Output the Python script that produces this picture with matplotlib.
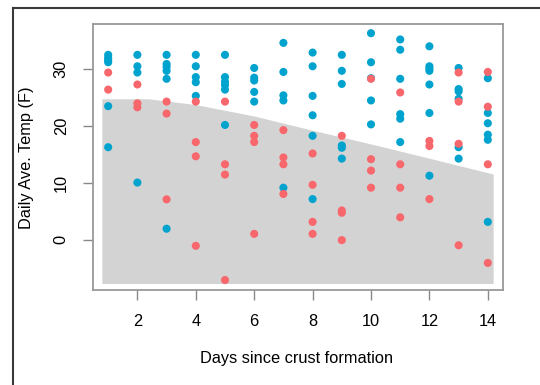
import matplotlib
matplotlib.use("Agg")
import matplotlib.pyplot as plt
from matplotlib.lines import Line2D
from matplotlib.patches import Polygon

plt.rcParams['font.family'] = ['Liberation Sans', 'DejaVu Sans']

# ---- data ----
blue_days = ([1]*6 + [2]*4 + [3]*6 + [4]*5 + [5]*6 + [6]*5 + [7]*5 +
             [8]*6 + [9]*6 + [10]*5 + [11]*6 + [12]*7 + [13]*6 + [14]*6)
blue_temps = [32.4, 31.9, 31.5, 31.1, 23.4, 16.2,
              32.4, 30.4, 29.3, 10.0,
              32.4, 30.8, 30.3, 29.6, 28.2, 1.9,
              32.4, 30.4, 28.5, 27.6, 25.2,
              32.4, 28.5, 27.7, 27.1, 26.3, 20.1,
              30.1, 28.4, 27.9, 25.9, 24.2,
              34.5, 29.4, 25.3, 24.4, 9.1,
              32.8, 30.4, 25.2, 21.8, 18.2, 7.1,
              32.4, 29.6, 27.3, 16.5, 16.1, 14.2,
              36.2, 31.1, 28.3, 24.4, 20.2,
              35.1, 33.3, 28.2, 22.0, 21.2, 17.1,
              33.9, 30.4, 30.0, 29.6, 27.2, 22.2, 11.2,
              30.1, 26.4, 26.0, 24.7, 16.2, 14.2,
              28.3, 22.2, 20.4, 18.4, 17.5, 3.1]

red_days = ([1]*2 + [2]*3 + [3]*3 + [4]*4 + [5]*4 + [6]*4 + [7]*4 +
            [8]*4 + [9]*4 + [10]*4 + [11]*4 + [12]*3 + [13]*4 + [14]*4)
red_temps = [29.3, 26.3,
             27.2, 23.9, 23.2,
             24.2, 22.1, 7.05,
             24.2, 17.1, 14.6, -1.1,
             24.2, 13.2, 11.4, -7.1,
             20.1, 18.2, 17.1, 1.0,
             19.2, 14.4, 13.2, 8.0,
             15.1, 9.6, 3.1, 1.0,
             18.2, 5.1, 4.7, -0.1,
             28.2, 14.1, 12.1, 9.1,
             25.8, 13.2, 9.1, 3.9,
             17.3, 16.4, 7.1,
             29.3, 24.2, 16.8, -1.0,
             29.4, 23.3, 13.2, -4.1]

# shaded region (upper boundary) and its floor
band_days = [0.8, 2.4, 4.0, 5.0, 6.0, 8.0, 10.0, 12.0, 14.2]
band_top = [24.6, 24.6, 23.6, 22.6, 21.6, 19.1, 16.7, 14.2, 11.4]
band_floor = -7.8

x_ticks = [2, 4, 6, 8, 10, 12, 14]
y_ticks = [0, 10, 20, 30]

W, H = 540, 385
fig = plt.figure(figsize=(W/100, H/100), dpi=100)
ax = fig.add_axes([93/W, 1-290/H, (503-93)/W, (290-23.5)/H])

verts = list(zip(band_days, band_top)) + [(band_days[-1], band_floor), (band_days[0], band_floor)]
ax.add_patch(Polygon(verts, closed=True, facecolor='#D3D3D3', edgecolor='none', zorder=1))

ax.scatter(blue_days, blue_temps, s=34, color='#00A3CD', edgecolors='none', zorder=3)
ax.scatter(red_days, red_temps, s=34, color='#F8676B', edgecolors='none', zorder=3)

ax.set_xlim(0.48, 14.52)
ax.set_ylim(-8.85, 37.9)

ax.set_xticks(x_ticks)
ax.set_yticks(y_ticks)
ax.set_yticklabels([str(v) for v in y_ticks], rotation=90, va='center')
ax.tick_params(axis='both', direction='out', length=7.5, width=1.0, color='#888888',
               labelsize=11.8, labelcolor='black', pad=10)

for sp in ax.spines.values():
    sp.set_color('#999999')
    sp.set_linewidth(1.3)

ax.set_xlabel('Days since crust formation', fontsize=11.8)
ax.xaxis.set_label_coords((297 - 93) / (503 - 93), -(359 - 290) / (290 - 23.5))
ax.xaxis.label.set_va('center')
ax.set_ylabel('Daily Ave. Temp (F)', fontsize=11.8)
ax.yaxis.set_label_coords(-(93 - 27) / (503 - 93), (290 - 158) / (290 - 23.5))
ax.yaxis.label.set_va('center')

# outer frame (partially visible)
fig.add_artist(Line2D([12.5/W, 1.0], [1-7.5/H, 1-7.5/H], transform=fig.transFigure,
                      color='#3a3a3a', lw=1.5))
fig.add_artist(Line2D([12.5/W, 12.5/W], [1-7.5/H, 0.0], transform=fig.transFigure,
                      color='#3a3a3a', lw=1.5))

fig.savefig('out.png', dpi=100)
